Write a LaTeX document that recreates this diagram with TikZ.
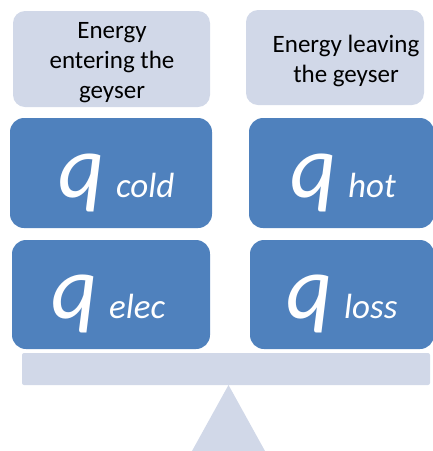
\documentclass[tikz,border=0pt]{standalone}
\usepackage{fontspec}
\setmainfont{Carlito}
\definecolor{boxblue}{RGB}{79,129,189}
\definecolor{lightfill}{RGB}{209,216,232}
\newcommand{\qlabel}[1]{\makebox[58pt][l]{\fontsize{90}{90}\selectfont\itshape q}{\fontsize{35}{35}\selectfont\itshape #1}}
\begin{document}
\begin{tikzpicture}[x=1pt,y=-1pt,
  lightbox/.style={fill=lightfill,draw=none,rounded corners=12pt},
  bluebox/.style={fill=boxblue,draw=none,rounded corners=14pt},
  toptext/.style={font=\fontsize{25}{30}\selectfont,align=center,text=black,inner sep=0pt,anchor=base},
  qtext/.style={text=white,inner sep=0pt,anchor=base west}]
\useasboundingbox (0,0) rectangle (433,451);
\clip (0,0) rectangle (433,451);
% top light boxes
\path[lightbox] (13,11) rectangle (210,107);
\path[lightbox] (246,10) rectangle (424,105);
\node[toptext] (tin) at (112,98) {Energy\\entering the\\geyser};
\node[toptext] (tout) at (346,82) {Energy leaving\\the geyser};
% blue boxes
\path[bluebox] (10,118) rectangle (212,228);
\path[bluebox] (249,118) rectangle (434,228);
\path[bluebox] (12,240) rectangle (210,349);
\path[bluebox] (250,240) rectangle (434,349);
\node[qtext] (qcold) at (58,197) {\qlabel{cold}};
\node[qtext] (qhot) at (290,197) {\qlabel{hot}};
\node[qtext] (qelec) at (51,318) {\qlabel{elec}};
\node[qtext] (qloss) at (286,318) {\qlabel{loss}};
% beam and fulcrum
\path[fill=lightfill,rounded corners=2pt] (22,353) rectangle (430,385);
\path[fill=lightfill] (228.5,385) -- (265,451) -- (192,451) -- cycle;
\end{tikzpicture}
\end{document}
